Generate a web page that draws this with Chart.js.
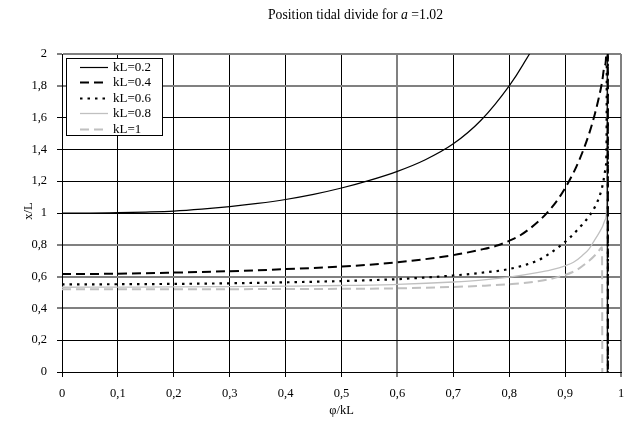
<!DOCTYPE html>
<html><head><meta charset="utf-8">
<script src="https://cdn.jsdelivr.net/npm/chart.js@4.4.1/dist/chart.umd.min.js"></script>
<style>html,body{margin:0;padding:0;background:#fff}#wrap{width:628px;height:423px;position:relative}</style>
</head><body><div id="wrap"><canvas id="c"></canvas></div>
<script>
// ---- data ----
const seriesNames = ['kL=0.2','kL=0.4','kL=0.6','kL=0.8','kL=1'];
const x02 = [0,0.05,0.1,0.15,0.2,0.25,0.3,0.35,0.4,0.45,0.5,0.55,0.6,0.65,0.7,0.75,0.8,0.825,0.85,0.9,0.95,0.975,0.976];
const y02 = [1.000,1.000,1.002,1.006,1.012,1.024,1.040,1.060,1.085,1.117,1.157,1.205,1.262,1.335,1.435,1.585,1.800,1.935,2.10,2.7,4.5,12,-12];
const x04 = [0,0.1,0.2,0.3,0.4,0.5,0.6,0.7,0.75,0.78,0.8,0.82,0.85,0.87,0.89,0.907,0.92,0.933,0.944,0.953,0.96,0.966,0.971,0.974,0.976,0.977];
const y04 = [0.616,0.618,0.625,0.634,0.647,0.663,0.69,0.735,0.77,0.797,0.825,0.86,0.94,1.01,1.1,1.2,1.29,1.4,1.51,1.62,1.72,1.82,1.93,2.05,8,-8];
const x06 = [0,0.1,0.2,0.3,0.4,0.5,0.6,0.7,0.75,0.8,0.85,0.87,0.89,0.91,0.93,0.945,0.955,0.963,0.968,0.972,0.974,0.976,0.977];
const y06 = [0.551,0.552,0.554,0.558,0.564,0.572,0.584,0.607,0.624,0.648,0.70,0.74,0.79,0.85,0.925,0.99,1.05,1.12,1.19,1.27,1.4,4,-4];
const x08 = [0,0.1,0.2,0.3,0.4,0.5,0.6,0.7,0.75,0.8,0.85,0.875,0.9,0.915,0.93,0.943,0.952,0.96,0.967,0.972,0.975,0.976,0.977];
const y08 = [0.533,0.534,0.535,0.537,0.540,0.544,0.551,0.566,0.578,0.597,0.625,0.643,0.668,0.69,0.73,0.775,0.825,0.87,0.915,0.96,1.1,3,-3];
const x10 = [0,0.1,0.2,0.3,0.4,0.5,0.6,0.7,0.75,0.8,0.85,0.89,0.92,0.943,0.955,0.962,0.966,0.967];
const y10 = [0.520,0.520,0.521,0.521,0.522,0.523,0.526,0.535,0.542,0.552,0.57,0.6,0.64,0.7,0.74,0.77,0.785,-1];
const xTicks = [0,0.1,0.2,0.3,0.4,0.5,0.6,0.7,0.8,0.9,1];
const yTicks = [0,0.2,0.4,0.6,0.8,1,1.2,1.4,1.6,1.8,2];

// ---- styles ----
const styles = [
  {color:'#000000', width:1.2, dash:[]},
  {color:'#000000', width:2, dash:[9,5]},
  {color:'#000000', width:2.2, dash:[2.5,5]},
  {color:'#c0c0c0', width:1.3, dash:[]},
  {color:'#c0c0c0', width:2, dash:[9,5]}
];
const xs = [x02,x04,x06,x08,x10], ys=[y02,y04,y06,y08,y10];
const datasets = seriesNames.map((n,i)=>({
  label:n,
  data: xs[i].map((x,j)=>({x:x,y:ys[i][j]})),
  showLine:true, pointRadius:0, fill:false,
  borderColor:styles[i].color, borderWidth:styles[i].width, borderDash:styles[i].dash,
  cubicInterpolationMode:'monotone', borderCapStyle:'butt'
}));

const FONT = '"Liberation Serif","Times New Roman",serif';
const fmt = v => String(Math.round(v*10)/10).replace('.',',');
const grayX = [0.6,1], grayY=[0.4,0.6,0.8,1.8,2];
const isIn = (arr,v)=>arr.some(a=>Math.abs(a-v)<1e-6);

const decor = {
  id:'decor',
  afterDraw(chart){
    const ctx = chart.ctx; ctx.save();
    ctx.fillStyle='#000';
    // title
    const TF='13.7px '+FONT;
    const p1='Position tidal divide for ', p2='a', p3=' =1.02';
    ctx.font=TF; const w1=ctx.measureText(p1).width, w3=ctx.measureText(p3).width;
    ctx.font='italic '+TF; const w2=ctx.measureText(p2).width;
    let tx = 355.5-(w1+w2+w3)/2, ty=19;
    ctx.textBaseline='alphabetic'; ctx.textAlign='left';
    ctx.font=TF; ctx.fillText(p1,tx,ty); tx+=w1;
    ctx.font='italic '+TF; ctx.fillText(p2,tx,ty); tx+=w2;
    ctx.font=TF; ctx.fillText(p3,tx,ty);
    // axis titles
    ctx.font='12.5px '+FONT;
    ctx.textAlign='center'; ctx.textBaseline='middle';
    ctx.fillText('\u03c6/kL', 341.5, 411);
    ctx.save(); ctx.translate(29,211); ctx.rotate(-Math.PI/2); ctx.fillText('x/L',0,0); ctx.restore();
    // legend
    const bx=66.5, by=58.5, bw=96, bh=77;
    ctx.fillStyle='#fff'; ctx.fillRect(bx,by,bw,bh);
    ctx.strokeStyle='#000'; ctx.lineWidth=1; ctx.setLineDash([]); ctx.strokeRect(bx,by,bw,bh);
    ctx.textAlign='left'; ctx.textBaseline='middle'; ctx.font='13px '+FONT;
    for(let i=0;i<seriesNames.length;i++){
      const yy = 67+ i*15.4;
      ctx.beginPath(); ctx.strokeStyle=styles[i].color; ctx.lineWidth=styles[i].width;
      ctx.setLineDash(styles[i].dash); ctx.moveTo(80,Math.round(yy)+0.5); ctx.lineTo(108,Math.round(yy)+0.5); ctx.stroke();
      ctx.setLineDash([]);
      ctx.fillStyle='#000'; ctx.fillText(seriesNames[i],113,yy+0.5);
    }
    ctx.restore();
  }
};

new Chart(document.getElementById('c'),{
  type:'scatter',
  data:{datasets},
  options:{
    responsive:true, maintainAspectRatio:false, animation:false,
    layout:{padding:{left:0,right:7,top:54,bottom:0}},
    plugins:{legend:{display:false},title:{display:false},tooltip:{enabled:false}},
    scales:{
      x:{type:'linear',min:0,max:1,
        afterBuildTicks:s=>{s.ticks=xTicks.map(v=>({value:v}));},
        afterFit:s=>{s.height=51; s.paddingLeft=0; s.paddingRight=0;},
        ticks:{callback:fmt,color:'#000',font:{family:FONT,size:12.5},padding:9,maxRotation:0,autoSkip:false},
        grid:{color:c=>(c.tick&&isIn(grayX,c.tick.value))?'#808080':'#000',
              lineWidth:c=>(c.tick&&isIn(grayX,c.tick.value))?2:1,
              tickLength:5,tickColor:'#000',tickWidth:1},
        border:{color:'#000',width:1}
      },
      y:{type:'linear',min:0,max:2,
        afterBuildTicks:s=>{s.ticks=yTicks.map(v=>({value:v}));},
        afterFit:s=>{s.width=62; s.paddingTop=0; s.paddingBottom=0;},
        ticks:{callback:fmt,color:'#000',font:{family:FONT,size:12.5},padding:10,autoSkip:false},
        grid:{color:c=>(c.tick&&isIn(grayY,c.tick.value))?'#808080':'#000',
              lineWidth:c=>(c.tick&&isIn(grayY,c.tick.value))?2:1,
              tickLength:5,tickColor:'#000',tickWidth:1},
        border:{color:'#000',width:1}
      }
    }
  },
  plugins:[decor]
});
</script></body></html>
